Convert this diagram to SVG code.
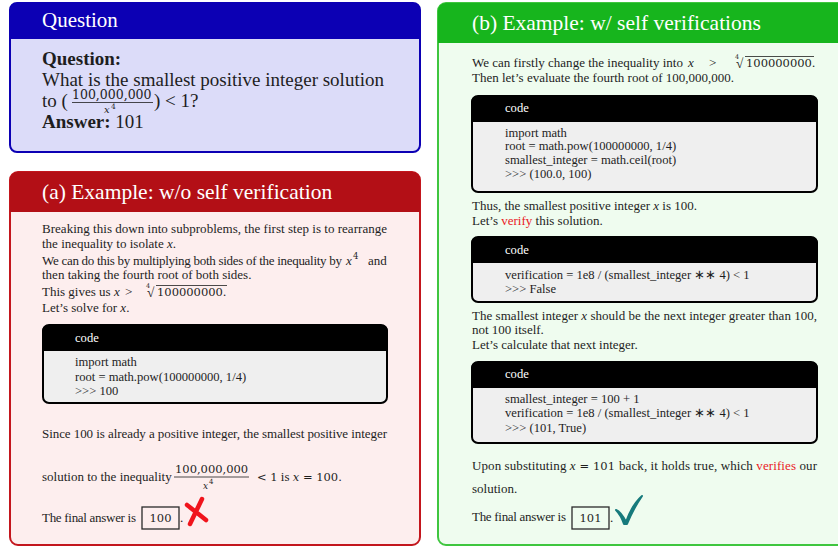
<svg xmlns="http://www.w3.org/2000/svg" width="838" height="548" viewBox="0 0 838 548">
  <style>
    text { font-family: "Liberation Serif", "Times New Roman", serif; fill: #1e1e1e; }
    .title { font-size: 21.5px; fill: #ffffff; }
    .q { font-size: 19px; }
    .t { font-size: 13px; }
    .m { font-family: "DejaVu Serif", "Liberation Serif", serif; font-size: 11.5px; }
    .c { font-size: 12.6px; }
    .ch { font-size: 12.6px; fill: #ffffff; }
    .i { font-style: italic; }
    .red { fill: #ea1a1f; }
    .codebox { fill: #efefef; stroke: #000000; stroke-width: 2; }
    .codehead { fill: #000000; }
    .ans { fill: none; stroke: #2a2a2a; stroke-width: 1.3; }
    .rule { stroke: #1e1e1e; stroke-width: 0.8; }
  </style>

  <rect width="838" height="548" fill="#ffffff"/>

  <!-- Question card -->
  <g id="question">
    <rect x="10" y="3" width="410" height="149" rx="7" fill="#dcdcf9" stroke="#0c00b4" stroke-width="2"/>
    <path d="M10 39 V10 a7 7 0 0 1 7 -7 H413 a7 7 0 0 1 7 7 V39 Z" fill="#0c00b4"/>
    <text class="title" x="42" y="27" style="font-size:21px">Question</text>
    <text class="q" x="42" y="65" font-weight="bold">Question:</text>
    <text class="q" x="42" y="86">What is the smallest positive integer solution</text>
    <text class="q" x="42" y="107">to (</text>
    <text class="m" x="72" y="99" style="font-size:12.5px">100,000,000</text>
    <line class="rule" x1="72" y1="102.5" x2="153" y2="102.5"/>
    <text class="m i" x="104" y="113" style="font-size:10px">x</text>
    <text class="m" x="111" y="109" style="font-size:7.5px">4</text>
    <text class="q" x="154" y="107">) &lt; 1?</text>
    <text class="q" x="42" y="128"><tspan font-weight="bold">Answer:</tspan> 101</text>
  </g>

  <!-- Panel (a): no self verification -->
  <g id="panel-a">
    <rect x="10" y="172" width="410" height="373" rx="8" fill="#fdeeee" stroke="#c3161d" stroke-width="2"/>
    <path d="M10 212 V180 a8 8 0 0 1 8 -8 H412 a8 8 0 0 1 8 8 V212 Z" fill="#b30f16"/>
    <text class="title" x="42" y="199">(a) Example: w/o self verification</text>

    <text class="t" x="42" y="233" textLength="345">Breaking this down into subproblems, the first step is to rearrange</text>
    <text class="t" x="42" y="248">the inequality to isolate <tspan class="i">x</tspan>.</text>
    <text class="t" x="42" y="265" textLength="300">We can do this by multiplying both sides of the inequality by</text>
    <text class="t i" x="346" y="265">x</text>
    <text class="m" x="353" y="259" style="font-size:8.5px">4</text>
    <text class="t" x="368" y="265">and</text>
    <text class="t" x="42" y="279">then taking the fourth root of both sides.</text>
    <text class="t" x="42" y="296">This gives us <tspan class="i">x</tspan></text>
    <text class="t" x="125" y="296">&gt;</text>
    <text class="m" x="146" y="288" style="font-size:6.5px">4</text>
    <text class="t" x="147" y="297" style="font-size:13.5px">√</text>
    <line class="rule" x1="156" y1="285.5" x2="227" y2="285.5"/>
    <text class="m" x="157" y="296">100000000.</text>
    <text class="t" x="42" y="312">Let’s solve for <tspan class="i">x</tspan>.</text>

    <g id="code-a">
      <rect class="codebox" x="43" y="325" width="344" height="78" rx="6"/>
      <path class="codehead" d="M42 351 V331 a6 6 0 0 1 6 -6 H382 a6 6 0 0 1 6 6 V351 Z"/>
      <text class="ch" x="75" y="342">code</text>
      <text class="c" x="75" y="366">import math</text>
      <text class="c" x="75" y="381">root = math.pow(100000000, 1/4)</text>
      <text class="c" x="75" y="395">&gt;&gt;&gt;  100</text>
    </g>

    <text class="t" x="42" y="438" textLength="345">Since 100 is already a positive integer, the smallest positive integer</text>
    <text class="t" x="42" y="481">solution to the inequality</text>
    <text class="m" x="175" y="473">100,000,000</text>
    <line class="rule" x1="174" y1="477" x2="249" y2="477"/>
    <text class="m i" x="203" y="489" style="font-size:9px">x</text>
    <text class="m" x="209" y="484" style="font-size:7px">4</text>
    <text class="t" x="257" y="481"><tspan class="m">&lt; 1</tspan> is <tspan class="m i">x</tspan><tspan class="m"> = 100.</tspan></text>

    <text class="t" x="42" y="522" textLength="94">The final answer is</text>
    <rect class="ans" x="142" y="507" width="37" height="22"/>
    <text class="m" x="160.5" y="522" text-anchor="middle">100</text>
    <text class="t" x="180" y="522">.</text>
    <path d="M202 499 L190 524 M187 505 Q196 512 206 520" fill="none" stroke="#f0141c" stroke-width="4.5" stroke-linecap="round"/>
  </g>

  <!-- Panel (b): with self verifications -->
  <g id="panel-b">
    <rect x="438" y="3" width="410" height="542" rx="8" fill="#effcef" stroke="#3fc63f" stroke-width="2"/>
    <path d="M438 43 V11 a8 8 0 0 1 8 -8 H848 V43 Z" fill="#17b51d"/>
    <text class="title" x="472" y="30">(b) Example: w/ self verifications</text>

    <text class="t" x="472" y="67" textLength="211">We can firstly change the inequality into</text>
    <text class="t i" x="688" y="67">x</text>
    <text class="t" x="709" y="67">&gt;</text>
    <text class="m" x="735" y="59" style="font-size:6.5px">4</text>
    <text class="t" x="736" y="68" style="font-size:13.5px">√</text>
    <line class="rule" x1="745" y1="56.5" x2="814" y2="56.5"/>
    <text class="m" x="746" y="67">100000000.</text>
    <text class="t" x="472" y="82">Then let’s evaluate the fourth root of 100,000,000.</text>

    <g id="code-b1">
      <rect class="codebox" x="472" y="96" width="345" height="96" rx="6"/>
      <path class="codehead" d="M471 122 V102 a6 6 0 0 1 6 -6 H812 a6 6 0 0 1 6 6 V122 Z"/>
      <text class="ch" x="505" y="112">code</text>
      <text class="c" x="505" y="137">import math</text>
      <text class="c" x="505" y="150">root = math.pow(100000000, 1/4)</text>
      <text class="c" x="505" y="164">smallest_integer = math.ceil(root)</text>
      <text class="c" x="505" y="178">&gt;&gt;&gt;  (100.0, 100)</text>
    </g>

    <text class="t" x="472" y="210">Thus, the smallest positive integer <tspan class="i">x</tspan> is 100.</text>
    <text class="t" x="472" y="225">Let’s <tspan class="red">verify</tspan> this solution.</text>

    <g id="code-b2">
      <rect class="codebox" x="472" y="237" width="345" height="65" rx="6"/>
      <path class="codehead" d="M471 263 V243 a6 6 0 0 1 6 -6 H812 a6 6 0 0 1 6 6 V263 Z"/>
      <text class="ch" x="505" y="254">code</text>
      <text class="c" x="505" y="279">verification = 1e8 / (smallest_integer ∗∗ 4) &lt; 1</text>
      <text class="c" x="505" y="293">&gt;&gt;&gt;  False</text>
    </g>

    <text class="t" x="472" y="320" textLength="345">The smallest integer <tspan class="i">x</tspan> should be the next integer greater than 100,</text>
    <text class="t" x="472" y="334">not 100 itself.</text>
    <text class="t" x="472" y="349">Let’s calculate that next integer.</text>

    <g id="code-b3">
      <rect class="codebox" x="472" y="362" width="345" height="81" rx="6"/>
      <path class="codehead" d="M471 388 V368 a6 6 0 0 1 6 -6 H812 a6 6 0 0 1 6 6 V388 Z"/>
      <text class="ch" x="505" y="378">code</text>
      <text class="c" x="505" y="403">smallest_integer = 100 + 1</text>
      <text class="c" x="505" y="417">verification = 1e8 / (smallest_integer ∗∗ 4) &lt; 1</text>
      <text class="c" x="505" y="432">&gt;&gt;&gt;  (101, True)</text>
    </g>

    <text class="t" x="472" y="470" textLength="345">Upon substituting <tspan class="i">x</tspan><tspan class="m"> = 101 </tspan>back, it holds true, which <tspan class="red">verifies</tspan> our</text>
    <text class="t" x="472" y="493">solution.</text>

    <text class="t" x="472" y="521" textLength="94">The final answer is</text>
    <rect class="ans" x="572" y="507" width="37" height="22"/>
    <text class="m" x="590.5" y="522" text-anchor="middle">101</text>
    <text class="t" x="610" y="522">.</text>
    <path d="M616 510 Q621 512 626 522 Q632 505 642 496 Q633 509 627 524 L624 524 Q621 515 616 510 Z" fill="#167a7c" stroke="#167a7c" stroke-width="2" stroke-linejoin="round"/>
  </g>
</svg>
